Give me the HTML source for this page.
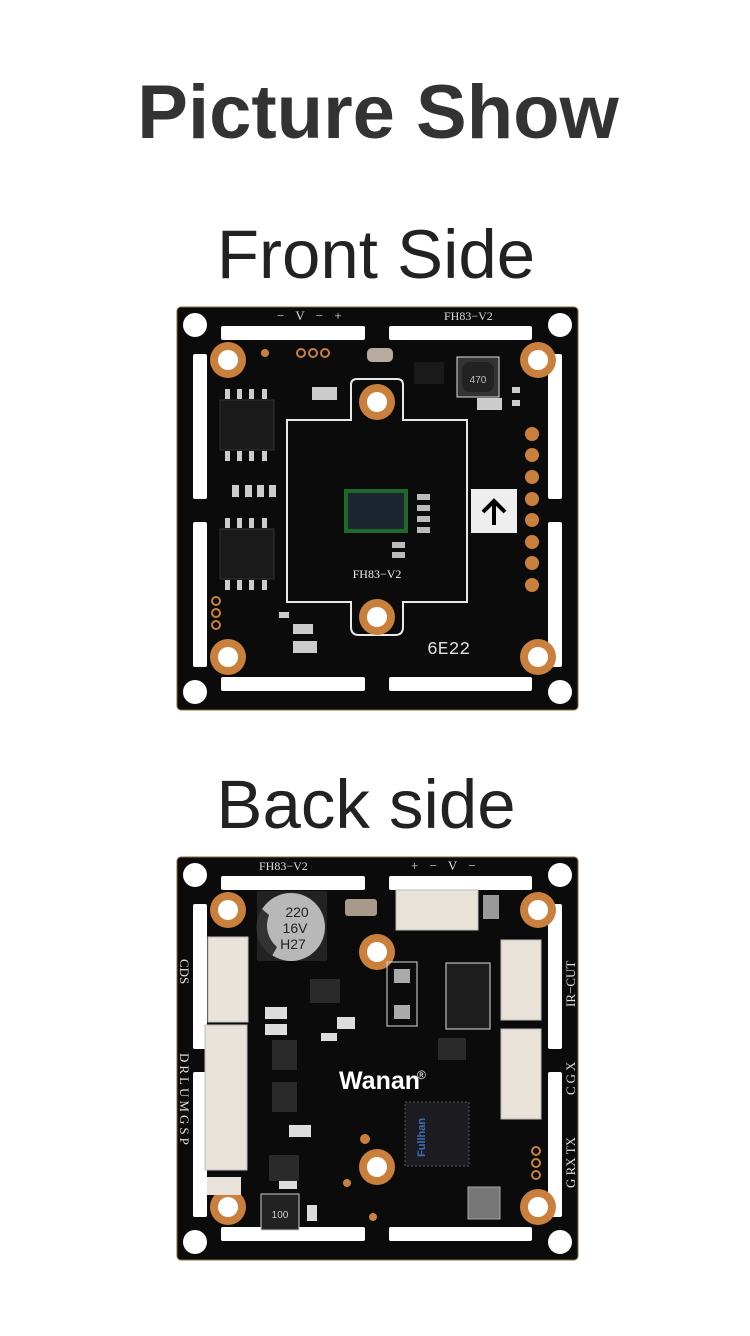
<!DOCTYPE html>
<html><head><meta charset="utf-8"><style>
html,body{margin:0;padding:0;background:#fff;width:750px;height:1336px;overflow:hidden}
svg{display:block}
</style></head><body>
<svg width="750" height="1336" viewBox="0 0 750 1336" xmlns="http://www.w3.org/2000/svg" font-family="Liberation Sans, sans-serif">
<defs>
<g id="frame">
  <rect x="0" y="0" width="401" height="403" rx="4" fill="#0b0b0c" stroke="#8a6a3a" stroke-width="1"/>
  <g fill="#fff">
    <circle cx="18" cy="18" r="12"/><circle cx="383" cy="18" r="12"/>
    <circle cx="18" cy="385" r="12"/><circle cx="383" cy="385" r="12"/>
    <rect x="44" y="19" width="144" height="14" rx="2"/><rect x="212" y="19" width="143" height="14" rx="2"/>
    <rect x="44" y="370" width="144" height="14" rx="2"/><rect x="212" y="370" width="143" height="14" rx="2"/>
    <rect x="16" y="47" width="14" height="145" rx="2"/><rect x="16" y="215" width="14" height="145" rx="2"/>
    <rect x="371" y="47" width="14" height="145" rx="2"/><rect x="371" y="215" width="14" height="145" rx="2"/>
  </g>
  <g fill="#c9803c">
    <circle cx="51" cy="53" r="18"/><circle cx="361" cy="53" r="18"/>
    <circle cx="51" cy="350" r="18"/><circle cx="361" cy="350" r="18"/>
  </g>
  <g fill="#fff">
    <circle cx="51" cy="53" r="10"/><circle cx="361" cy="53" r="10"/>
    <circle cx="51" cy="350" r="10"/><circle cx="361" cy="350" r="10"/>
  </g>
</g>
</defs>

<text x="378" y="138" text-anchor="middle" font-size="76" font-weight="bold" fill="#333">Picture Show</text>
<text x="376" y="278" text-anchor="middle" font-size="69" fill="#222">Front Side</text>
<text x="366" y="828" text-anchor="middle" font-size="69" fill="#222">Back side</text>

<!-- FRONT -->
<g transform="translate(177,307)">
  <use href="#frame"/>
  <text x="100" y="13" font-size="13" fill="#ddd" font-family="Liberation Serif, serif" letter-spacing="4">− V − +</text>
  <text x="267" y="13" font-size="12" fill="#ddd" font-family="Liberation Serif, serif">FH83−V2</text>
  <path d="M110,113 H174 V78 Q174,72 180,72 H220 Q226,72 226,78 V113 H290 V295 H226 V320 Q226,328 218,328 H182 Q174,328 174,320 V295 H110 Z" fill="none" stroke="#e8e8e8" stroke-width="2"/>
  <circle cx="200" cy="95" r="18" fill="#c9803c"/><circle cx="200" cy="95" r="10" fill="#fff"/>
  <circle cx="200" cy="310" r="18" fill="#c9803c"/><circle cx="200" cy="310" r="10" fill="#fff"/>
  <rect x="167" y="182" width="64" height="44" fill="#1f6a2a"/>
  <rect x="171" y="186" width="56" height="36" fill="#1b2630"/>
  <g fill="#bbb"><rect x="240" y="187" width="13" height="6"/><rect x="240" y="198" width="13" height="6"/><rect x="240" y="209" width="13" height="6"/><rect x="240" y="220" width="13" height="6"/><rect x="215" y="235" width="13" height="6"/><rect x="215" y="245" width="13" height="6"/></g>
  <text x="200" y="271" text-anchor="middle" font-size="12" fill="#eee" font-family="Liberation Serif, serif">FH83−V2</text>
  <rect x="294" y="182" width="46" height="44" fill="#eee"/>
  <path d="M317,218 V194 M306,205 L317,194 L328,205" fill="none" stroke="#000" stroke-width="4"/>
  <g fill="#c9803c"><circle cx="355" cy="127" r="7"/><circle cx="355" cy="148" r="7"/><circle cx="355" cy="170" r="7"/><circle cx="355" cy="192" r="7"/><circle cx="355" cy="213" r="7"/><circle cx="355" cy="235" r="7"/><circle cx="355" cy="256" r="7"/><circle cx="355" cy="278" r="7"/></g>
  <rect x="43" y="93" width="54" height="50" fill="#1a1a1a" stroke="#333"/>
  <rect x="43" y="222" width="54" height="50" fill="#1a1a1a" stroke="#333"/>
  <g fill="#ccc"><rect x="48" y="82" width="5" height="10"/><rect x="60" y="82" width="5" height="10"/><rect x="72" y="82" width="5" height="10"/><rect x="85" y="82" width="5" height="10"/>
  <rect x="48" y="144" width="5" height="10"/><rect x="60" y="144" width="5" height="10"/><rect x="72" y="144" width="5" height="10"/><rect x="85" y="144" width="5" height="10"/>
  <rect x="48" y="211" width="5" height="10"/><rect x="60" y="211" width="5" height="10"/><rect x="72" y="211" width="5" height="10"/><rect x="85" y="211" width="5" height="10"/>
  <rect x="48" y="273" width="5" height="10"/><rect x="60" y="273" width="5" height="10"/><rect x="72" y="273" width="5" height="10"/><rect x="85" y="273" width="5" height="10"/>
  <rect x="55" y="178" width="7" height="12"/><rect x="68" y="178" width="7" height="12"/><rect x="80" y="178" width="7" height="12"/><rect x="92" y="178" width="7" height="12"/>
  <rect x="190" y="41" width="26" height="14" rx="5" fill="#b8aca0"/><rect x="135" y="80" width="25" height="13"/><rect x="116" y="317" width="20" height="10"/><rect x="116" y="334" width="24" height="12"/><rect x="102" y="305" width="10" height="6"/>
  <rect x="300" y="91" width="25" height="12"/><rect x="335" y="80" width="8" height="6"/><rect x="335" y="93" width="8" height="6"/></g>
  <rect x="280" y="50" width="42" height="40" fill="#333" stroke="#ddd"/><rect x="285" y="55" width="32" height="30" rx="8" fill="#222"/>
  <text x="301" y="76" text-anchor="middle" font-size="10" fill="#bbb">470</text>
  <rect x="237" y="55" width="30" height="22" fill="#1a1a1a"/>
  <g fill="none" stroke="#c9803c" stroke-width="2"><circle cx="124" cy="46" r="4"/><circle cx="136" cy="46" r="4"/><circle cx="148" cy="46" r="4"/><circle cx="39" cy="294" r="4"/><circle cx="39" cy="306" r="4"/><circle cx="39" cy="318" r="4"/></g>
  <circle cx="88" cy="46" r="4" fill="#c9803c"/>
  <text x="250" y="347" font-size="18" fill="#ddd" font-family="Liberation Mono, monospace">6E22</text>
</g>

<!-- BACK -->
<g transform="translate(177,857)">
  <use href="#frame"/>
  <text x="82" y="13" font-size="12" fill="#ddd" font-family="Liberation Serif, serif">FH83−V2</text>
  <text x="234" y="13" font-size="13" fill="#ddd" font-family="Liberation Serif, serif" letter-spacing="4">+ − V −</text>
  <circle cx="200" cy="95" r="18" fill="#c9803c"/><circle cx="200" cy="95" r="10" fill="#fff"/>
  <circle cx="200" cy="310" r="18" fill="#c9803c"/><circle cx="200" cy="310" r="10" fill="#fff"/>
  <rect x="80" y="34" width="70" height="70" fill="#222"/>
  <circle cx="114" cy="70" r="34" fill="#b8b8b8"/><path d="M85,52 A34,34 0 0,0 95,99 L100,90 A28,28 0 0,1 92,58Z" fill="#333"/>
  <text x="120" y="60" text-anchor="middle" font-size="14" fill="#222">220</text>
  <text x="118" y="76" text-anchor="middle" font-size="14" fill="#222">16V</text>
  <text x="116" y="92" text-anchor="middle" font-size="14" fill="#222">H27</text>
  <rect x="168" y="42" width="32" height="17" rx="3" fill="#a89a8a"/>
  <g fill="#e9e2d8" stroke="#bbb">
    <rect x="219" y="33" width="82" height="40"/>
    <rect x="31" y="80" width="40" height="85"/>
    <rect x="28" y="168" width="42" height="145"/>
    <rect x="324" y="83" width="40" height="80"/>
    <rect x="324" y="172" width="40" height="90"/>
  </g>
  <rect x="306" y="38" width="16" height="24" fill="#999"/>
  <rect x="30" y="320" width="34" height="18" fill="#e9e2d8"/>
  <rect x="210" y="105" width="30" height="64" fill="none" stroke="#ddd"/>
  <rect x="217" y="112" width="16" height="14" fill="#aaa"/><rect x="217" y="148" width="16" height="14" fill="#aaa"/>
  <rect x="269" y="106" width="44" height="66" fill="#1e1e1e" stroke="#ddd"/>
  <rect x="228" y="245" width="64" height="64" fill="#1c1c20" stroke="#555" stroke-dasharray="2,2"/>
  <text x="248" y="300" font-size="11" fill="#3b6fb8" font-weight="bold" transform="rotate(-90 248 300)">Fullhan</text>
  <text x="162" y="232" font-size="25" font-weight="bold" fill="#fff">Wanan</text>
  <text x="240" y="222" font-size="12" fill="#fff">®</text>
  <rect x="84" y="337" width="38" height="36" fill="#222" stroke="#ccc"/><text x="103" y="361" text-anchor="middle" font-size="10" fill="#ccc">100</text>
  <rect x="291" y="330" width="32" height="32" fill="#777" stroke="#aaa"/>
  <g fill="#ddd"><rect x="88" y="150" width="22" height="12"/><rect x="88" y="167" width="22" height="11"/><rect x="144" y="176" width="16" height="8"/><rect x="160" y="160" width="18" height="12"/><rect x="102" y="322" width="18" height="10"/><rect x="130" y="348" width="10" height="16"/><rect x="112" y="268" width="22" height="12"/></g>
  <g fill="#2a2a2a"><rect x="133" y="122" width="30" height="24"/><rect x="95" y="183" width="25" height="30"/><rect x="95" y="225" width="25" height="30"/><rect x="92" y="298" width="30" height="26"/><rect x="261" y="181" width="28" height="22"/></g>
  <g fill="#c9803c"><circle cx="188" cy="282" r="5"/><circle cx="170" cy="326" r="4"/><circle cx="196" cy="360" r="4"/></g>
  <g fill="none" stroke="#c9803c" stroke-width="2"><circle cx="359" cy="294" r="4"/><circle cx="359" cy="306" r="4"/><circle cx="359" cy="318" r="4"/></g>
  <g font-family="Liberation Serif, serif" font-size="13" fill="#ddd">
    <text transform="translate(3,102) rotate(90)">CDS</text>
    <text transform="translate(3,196) rotate(90)" letter-spacing="3">DRLUMGSP</text>
    <text transform="translate(398,150) rotate(-90)">IR−CUT</text>
    <text transform="translate(398,238) rotate(-90)" letter-spacing="3">CGX</text>
    <text transform="translate(398,331) rotate(-90)">G RX TX</text>
  </g>
</g>
</svg>
</body></html>
